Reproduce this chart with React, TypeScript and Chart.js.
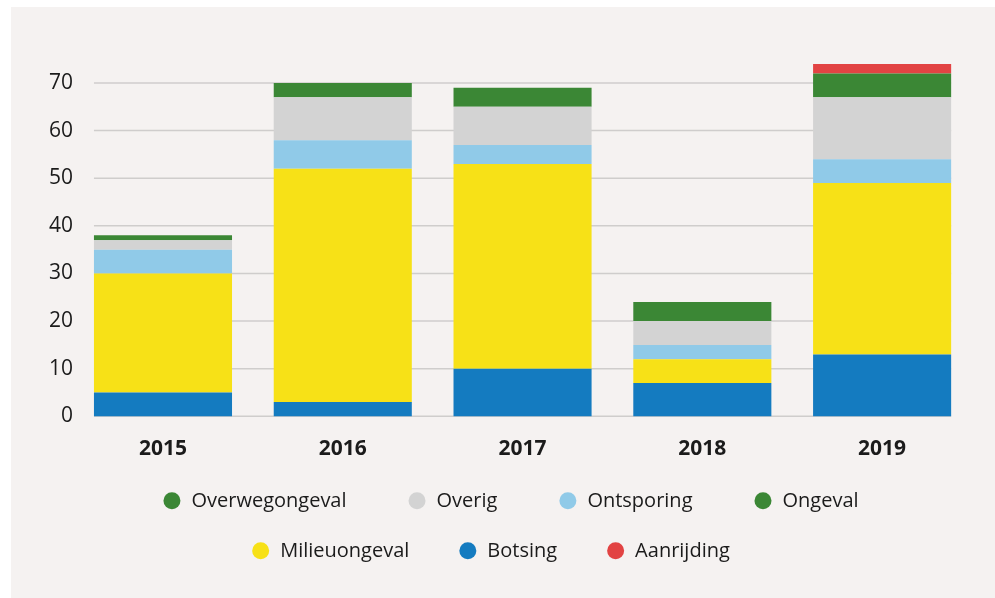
import React, { useEffect, useRef } from 'react';
import { Chart, registerables } from 'chart.js';

Chart.register(...registerables);

// ---- Data ----
const YEARS = ['2015', '2016', '2017', '2018', '2019'];
const BOTSING = [5, 3, 10, 7, 13];
const MILIEUONGEVAL = [25, 49, 43, 5, 36];
const ONTSPORING = [5, 6, 4, 3, 5];
const OVERIG = [2, 9, 8, 5, 13];
const ONGEVAL = [0, 0, 0, 0, 0];
const OVERWEGONGEVAL = [1, 3, 4, 4, 5];
const AANRIJDING = [0, 0, 0, 0, 2];
const Y_TICKS = [0, 10, 20, 30, 40, 50, 60, 70];
const LEGEND_ROW_1 = ['Overwegongeval', 'Overig', 'Ontsporing', 'Ongeval'];
const LEGEND_ROW_2 = ['Milieuongeval', 'Botsing', 'Aanrijding'];

const FONT = '"Open Sans", "Noto Sans", sans-serif';
const TEXT = '#1b1b1b';

const gridPlugin = {
  id: 'barSpanGrid',
  beforeDatasetsDraw(chart: any) {
    const y = chart.scales.y;
    const bars = chart.getDatasetMeta(0).data;
    if (!bars.length) return;
    const first = bars[0];
    const last = bars[bars.length - 1];
    const left = first.x - first.width / 2;
    const right = last.x + last.width / 2;
    const ctx = chart.ctx;
    ctx.save();
    ctx.strokeStyle = '#cfcdcc';
    ctx.lineWidth = 1.5;
    y.ticks.forEach((t: any) => {
      const py = y.getPixelForValue(t.value);
      ctx.beginPath();
      ctx.moveTo(left, py);
      ctx.lineTo(right, py);
      ctx.stroke();
    });
    ctx.restore();
  },
};

const legendPlugin = {
  id: 'rowLegend',
  afterDraw(chart: any) {
    const ctx = chart.ctx;
    const R = 8.5;
    const DOT_GAP = 11;
    const rows = [
      { labels: LEGEND_ROW_1, cx: 500, cy: 493.7, gap: 62 },
      { labels: LEGEND_ROW_2, cx: 480, cy: 543.7, gap: 50 },
    ];
    ctx.save();
    ctx.font = `20px ${FONT}`;
    ctx.textBaseline = 'middle';
    ctx.textAlign = 'left';
    rows.forEach((row) => {
      const items = row.labels.map((label) => {
        const ds = chart.data.datasets.find((d: any) => d.label === label);
        return { label, color: ds ? ds.backgroundColor : '#000', w: ctx.measureText(label).width };
      });
      const total =
        items.reduce((s, it) => s + 2 * R + DOT_GAP + it.w, 0) + row.gap * (items.length - 1);
      let x = row.cx - total / 2;
      items.forEach((it) => {
        ctx.fillStyle = it.color;
        ctx.beginPath();
        ctx.arc(x + R, row.cy, R, 0, Math.PI * 2);
        ctx.fill();
        ctx.fillStyle = TEXT;
        ctx.fillText(it.label, x + 2 * R + DOT_GAP, row.cy + 1);
        x += 2 * R + DOT_GAP + it.w + row.gap;
      });
    });
    ctx.restore();
  },
};

export default function App() {
  const canvasRef = useRef<HTMLCanvasElement | null>(null);

  useEffect(() => {
    if (!canvasRef.current) return;
    const mk = (label: string, data: number[], color: string) => ({
      label,
      data,
      backgroundColor: color,
      borderWidth: 0,
      clip: false as const,
    });
    const chart = new Chart(canvasRef.current, {
      type: 'bar',
      data: {
        labels: YEARS,
        datasets: [
          mk('Botsing', BOTSING, '#147bc0'),
          mk('Milieuongeval', MILIEUONGEVAL, '#f7e117'),
          mk('Ontsporing', ONTSPORING, '#90cae8'),
          mk('Overig', OVERIG, '#d3d3d3'),
          mk('Ongeval', ONGEVAL, '#3b8735'),
          mk('Overwegongeval', OVERWEGONGEVAL, '#3b8735'),
          mk('Aanrijding', AANRIJDING, '#e24343'),
        ],
      },
      options: {
        animation: false,
        responsive: true,
        maintainAspectRatio: false,
        layout: { padding: { top: 76, left: 0, right: 23, bottom: 121.7 } },
        datasets: { bar: { barPercentage: 0.768, categoryPercentage: 1 } },
        plugins: {
          legend: { display: false },
          tooltip: { enabled: true },
        },
        scales: {
          x: {
            stacked: true,
            grid: { display: false, drawTicks: false },
            border: { display: false },
            ticks: {
              color: TEXT,
              padding: 20,
              font: { family: FONT, size: 21, weight: 'bold' },
            },
            afterFit: (s: any) => {
              s.height = 60;
            },
          },
          y: {
            stacked: true,
            min: 0,
            max: 70,
            grid: { display: false, drawTicks: false },
            border: { display: false },
            afterBuildTicks: (s: any) => {
              s.ticks = Y_TICKS.map((v) => ({ value: v }));
            },
            ticks: {
              color: TEXT,
              padding: 0,
              font: { family: FONT, size: 21 },
            },
            afterFit: (s: any) => {
              s.width = 62.1;
            },
          },
        },
      },
      plugins: [gridPlugin, legendPlugin],
    });
    return () => chart.destroy();
  }, []);

  return (
    <div
      style={{
        position: 'fixed',
        left: 11,
        top: 7,
        width: 984,
        height: 591,
        background: '#f5f2f1',
      }}
    >
      <canvas ref={canvasRef} />
    </div>
  );
}
